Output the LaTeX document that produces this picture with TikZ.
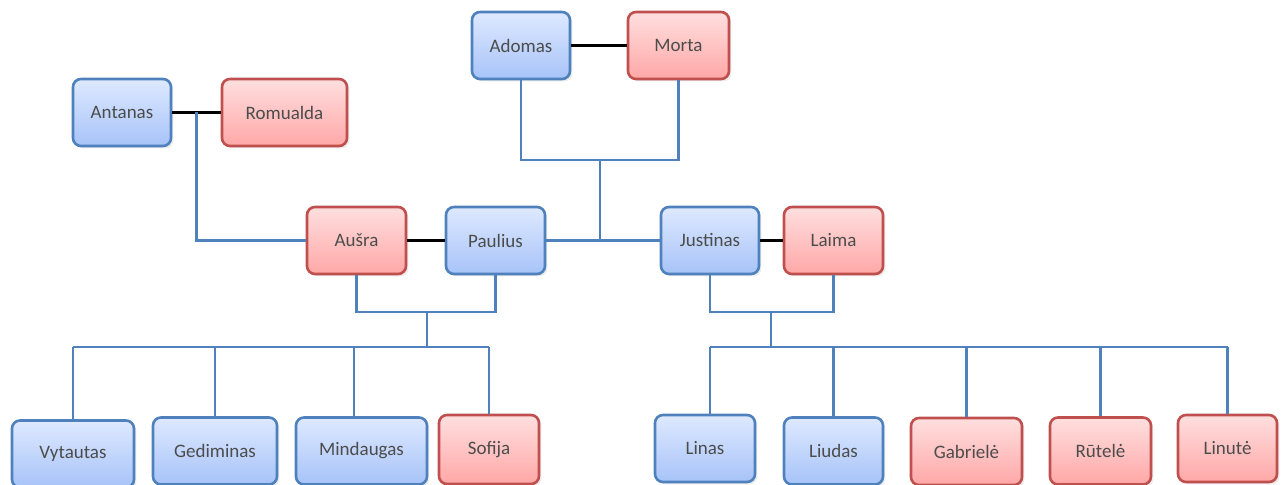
\documentclass[tikz,border=0pt]{standalone}
\usepackage{fontspec}
\setmainfont{Carlito}
\usepackage{tikz}
\usetikzlibrary{shadows}

\definecolor{manline}{HTML}{4F81BD}
\definecolor{mantop}{HTML}{DEE9FF}
\definecolor{manbot}{HTML}{A7C3F8}
\definecolor{womanline}{HTML}{C0504D}
\definecolor{womantop}{HTML}{FFDFDF}
\definecolor{womanbot}{HTML}{FFA7A7}

\begin{document}
\begin{tikzpicture}[x=0.5pt,y=-0.5pt,
    person/.style={rounded corners=4pt, line width=1.3pt, inner sep=0pt, minimum height=33.5pt,
      font=\fontsize{9.5}{11}\selectfont, text=black!70,
      drop shadow={shadow xshift=1.2pt, shadow yshift=-1.2pt, fill=black!15}},
    man/.style={person, draw=manline, top color=mantop, bottom color=manbot},
    woman/.style={person, draw=womanline, top color=womantop, bottom color=womanbot},
    kin/.style={draw=manline, line width=1.2pt},
    spouse/.style={draw=black, line width=1.2pt}]
  \useasboundingbox (0,0) rectangle (1284,485);

  % grandparents
  \node[man, minimum width=49pt] (adomas) at (521,45.5) {Adomas};
  \node[woman, minimum width=50.5pt] (morta) at (678.5,45.5) {Morta};
  \node[man, minimum width=49pt] (antanas) at (122,112.5) {Antanas};
  \node[woman, minimum width=62.5pt] (romualda) at (284.5,112.5) {Romualda};

  % parents
  \node[woman, minimum width=49.5pt] (ausra) at (356.5,240.5) {Aušra};
  \node[man, minimum width=49.5pt] (paulius) at (495.5,240.5) {Paulius};
  \node[man, minimum width=49pt] (justinas) at (710,240.5) {Justinas};
  \node[woman, minimum width=49.5pt] (laima) at (833.5,240.5) {Laima};

  % children
  \node[man, minimum width=61pt] (vytautas) at (73,454) {Vytautas};
  \node[man, minimum width=62pt] (gediminas) at (215,451) {Gediminas};
  \node[man, minimum width=65.5pt] (mindaugas) at (361.5,451) {Mindaugas};
  \node[woman, minimum width=50pt, minimum height=34.5pt] (sofija) at (489,449.5) {Sofija};
  \node[man, minimum width=50pt] (linas) at (705,448.5) {Linas};
  \node[man, minimum width=49.5pt] (liudas) at (833.5,451) {Liudas};
  \node[woman, minimum width=55.5pt] (gabriele) at (966.5,451.5) {Gabrielė};
  \node[woman, minimum width=50.5pt] (rutele) at (1100.5,451) {Rūtelė};
  \node[woman, minimum width=49.5pt] (linute) at (1227.5,448.5) {Linutė};

  \coordinate (top) at (600,160);
  \coordinate (ar) at (196.5,112.5);
  \coordinate (lp) at (427,312);
  \coordinate (lbar) at (427,347);
  \coordinate (rp) at (771,312);
  \coordinate (rbar) at (771,347);
  \coordinate (lk) at (linas.north -| justinas.south);
  \coordinate (mk) at (354,418);

  % couples
  \draw[spouse] (adomas) -- (morta);
  \draw[spouse] (antanas) -- (romualda);
  \draw[spouse] (ausra) -- (paulius);
  \draw[spouse] (justinas) -- (laima);

  % descent
  \draw[kin] (adomas.south) -- (adomas.south |- top) -| (morta.south);
  \draw[kin] (top) -- (top |- paulius.east);
  \draw[kin] (paulius.east) -- (justinas.west);
  \draw[kin] (ar) |- (ausra.west);

  \draw[kin] (ausra.south) -- (ausra.south |- lp) -| (paulius.south);
  \draw[kin] (lp) -- (lbar);
  \draw[kin] (vytautas.north |- lbar) -- (sofija.north |- lbar);
  \foreach \c in {vytautas,gediminas,sofija}
    \draw[kin] (\c.north |- lbar) -- (\c.north);
  \draw[kin] (mk |- lbar) -- (mk);

  \draw[kin] (justinas.south) -- (justinas.south |- rp) -| (laima.south);
  \draw[kin] (rp) -- (rbar);
  \draw[kin] (justinas.south |- rbar) -- (linute.north |- rbar);
  \draw[kin] (justinas.south |- rbar) -- (lk);
  \foreach \c in {liudas,gabriele,rutele,linute}
    \draw[kin] (\c.north |- rbar) -- (\c.north);
\end{tikzpicture}
\end{document}
